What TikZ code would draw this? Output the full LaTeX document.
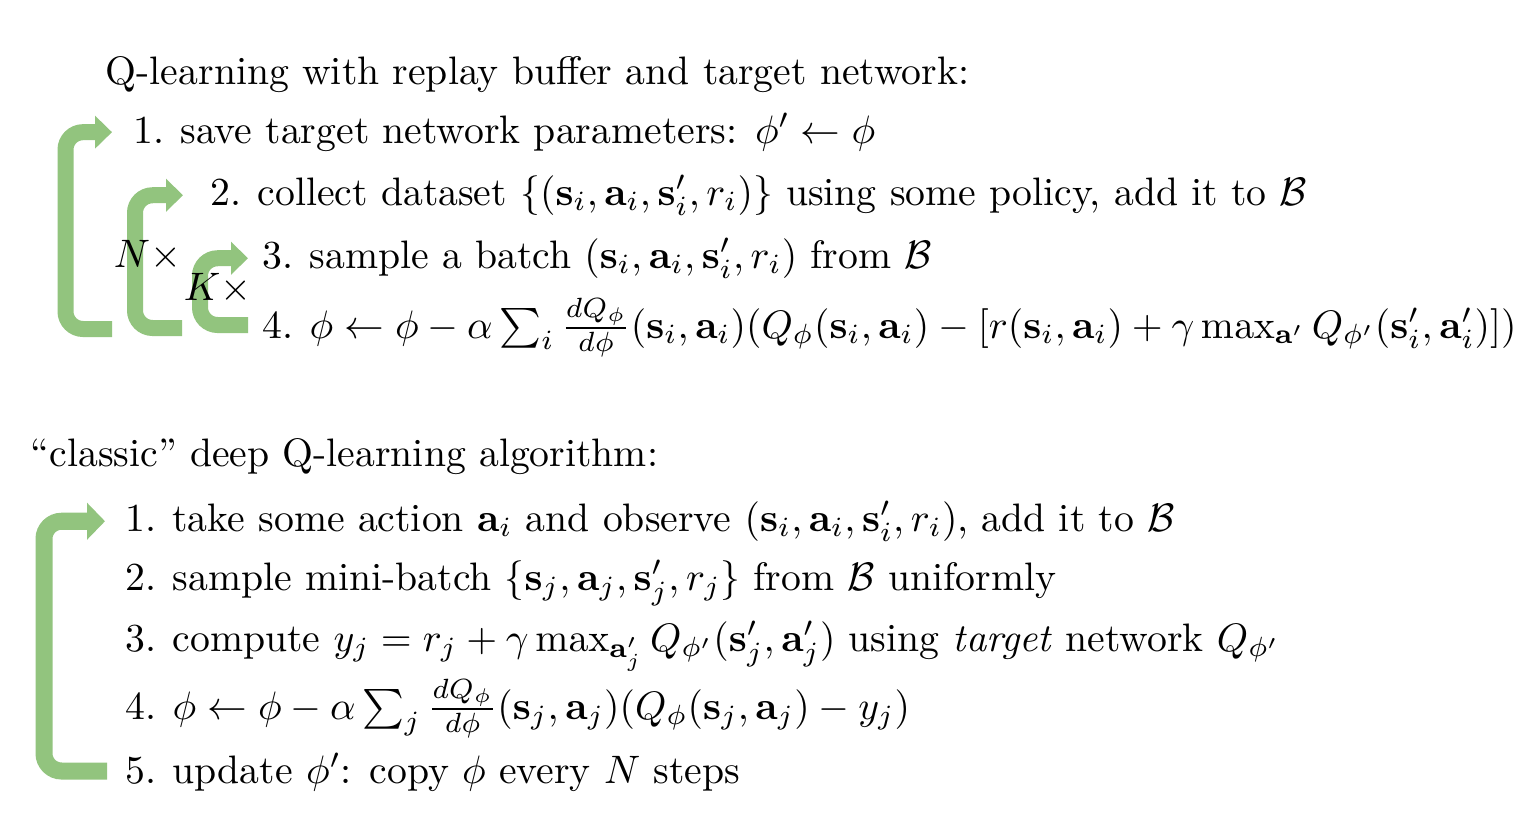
\documentclass[tikz,border=0pt]{standalone}
\usepackage{amsmath}
\usepackage{amssymb}
\usepackage{xcolor}
\usepackage{tikz}
\usetikzlibrary{arrows.meta}

\definecolor{loopgreen}{RGB}{146,196,126}
\newcommand{\sv}{\mathbf{s}}
\newcommand{\av}{\mathbf{a}}

\tikzset{
    itemtext/.style={anchor=base west, inner sep=0pt, scale=1.13},
    loopar/.style={draw=loopgreen, line width=0.16cm, rounded corners=5pt,
        -{Triangle[width=0.32cm,length=0.17cm]}}
}

\begin{document}
\begin{tikzpicture}
        \fill[white] (0,0) rectangle (15.22,8.16);

        % top algorithm
        \node[itemtext] (title1) at (1.05,7.32) {Q-learning with replay buffer and target network:};
        \node[itemtext] (s1) at (1.33,6.73) {1.\hspace{0.4em}save target network parameters: $\phi' \leftarrow \phi$};
        \node[itemtext] (s2) at (2.10,6.11) {2.\hspace{0.4em}collect dataset $\{(\sv_i,\av_i,\sv'_i,r_i)\}$ using some policy, add it to $\mathcal{B}$};
        \node[itemtext] (s3) at (2.62,5.48) {3.\hspace{0.4em}sample a batch $(\sv_i,\av_i,\sv'_i,r_i)$ from $\mathcal{B}$};
        \node[itemtext] (s4) at (2.62,4.78) {4.\hspace{0.4em}$\phi \leftarrow \phi - \alpha \sum_i \frac{dQ_\phi}{d\phi}(\sv_i,\av_i)(Q_\phi(\sv_i,\av_i) - [r(\sv_i,\av_i) + \gamma \max_{\av'} Q_{\phi'}(\sv'_i,\av'_i)])$};

        % loop ends
        \coordinate (o0) at (1.12,4.87);
        \coordinate (o1) at (0.655,4.87);
        \coordinate (m0) at (1.82,4.88);
        \coordinate (m1) at (1.35,4.88);
        \coordinate (k0) at (2.48,4.91);
        \coordinate (k1) at (2.00,4.91);

        % step 4 -> step 1
        \draw[loopar] (o0) -- (o1) |- ([xshift=-2.1mm]s1.west);
        % step 4 -> step 2
        \draw[loopar] (m0) -- (m1) |- ([xshift=-2.7mm]s2.west);
        % step 4 -> step 3
        \draw[loopar] (k0) -- (k1) |- ([xshift=-1.4mm]s3.west);

        \node[itemtext] (N) at (1.13,5.49) {$N\times$};
        \node[itemtext] (K) at (1.83,5.16) {$K\times$};

        % bottom algorithm
        \node[itemtext] (title2) at (0.30,3.50) {“classic” deep Q-learning algorithm:};
        \node[itemtext] (b1) at (1.25,2.85) {1.\hspace{0.4em}take some action $\av_i$ and observe $(\sv_i,\av_i,\sv'_i,r_i)$, add it to $\mathcal{B}$};
        \node[itemtext] (b2) at (1.25,2.26) {2.\hspace{0.4em}sample mini-batch $\{\sv_j,\av_j,\sv'_j,r_j\}$ from $\mathcal{B}$ uniformly};
        \node[itemtext] (b3) at (1.25,1.65) {3.\hspace{0.4em}compute $y_j = r_j + \gamma \max_{\av'_j} Q_{\phi'}(\sv'_j,\av'_j)$ using \emph{target} network $Q_{\phi'}$};
        \node[itemtext] (b4) at (1.25,0.97) {4.\hspace{0.4em}$\phi \leftarrow \phi - \alpha \sum_j \frac{dQ_\phi}{d\phi}(\sv_j,\av_j)(Q_\phi(\sv_j,\av_j) - y_j)$};
        \node[itemtext] (b5) at (1.25,0.33) {5.\hspace{0.4em}update $\phi'$: copy $\phi$ every $N$ steps};

        % step 5 -> step 1
        \coordinate (c0) at (1.07,0.45);
        \coordinate (c1) at (0.44,0.45);
        \draw[loopar, line width=0.17cm, -{Triangle[width=0.36cm,length=0.18cm]}] (c0) -- (c1) |- ([xshift=-2mm]b1.west);
    \end{tikzpicture}
\end{document}
